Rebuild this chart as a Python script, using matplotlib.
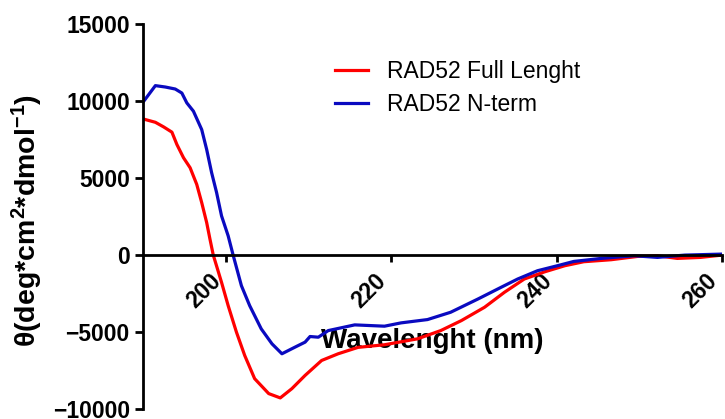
import matplotlib
matplotlib.use("Agg")
import matplotlib.pyplot as plt

plt.rcParams["font.family"] = ["Liberation Sans", "DejaVu Sans"]
plt.rcParams["mathtext.fontset"] = "custom"
plt.rcParams["mathtext.rm"] = "Liberation Sans:bold"
plt.rcParams["mathtext.it"] = "Liberation Sans:bold"
plt.rcParams["mathtext.bf"] = "Liberation Sans:bold"

# CD spectra (wavelength in nm, ellipticity)
full_nm = [190.0, 191.5, 192.5, 193.5, 194.1, 194.9, 195.7, 196.5, 197.1, 197.7,
           198.1, 198.5, 199.5, 200.3, 201.3, 202.3, 203.5, 205.2, 206.6, 208.0,
           209.6, 211.6, 213.6, 216.0, 219.2, 223.2, 226.0, 228.5, 231.3, 233.7,
           236.1, 238.6, 241.0, 243.3, 246.6, 249.8, 252.2, 254.6, 257.4, 260.0]
full_theta = [8840, 8620, 8320, 7980, 7180, 6320, 5670, 4590, 3410, 2115,
              1035, 0, -1770, -3280, -5000, -6515, -8020, -8990, -9270, -8670,
              -7810, -6840, -6405, -5990, -5820, -5435, -4900, -4250, -3385, -2415,
              -1553, -1080, -690, -430, -300, -86, -43, -215, -150, 0]

nterm_nm = [190.0, 191.5, 192.7, 193.9, 194.7, 195.3, 196.1, 197.1, 197.7, 198.3,
            198.9, 199.5, 200.3, 200.9, 201.9, 202.9, 204.3, 205.6, 206.8, 208.4,
            209.6, 210.2, 211.2, 212.4, 215.6, 219.2, 221.2, 224.4, 227.2, 230.5,
            233.3, 235.3, 237.7, 240.1, 242.1, 245.4, 249.4, 252.2, 255.5, 260.0]
nterm_theta = [9920, 11000, 10910, 10780, 10520, 9880, 9340, 8150, 6860, 5350,
               4060, 2545, 1250, 0, -1985, -3280, -4790, -5760, -6405, -5970,
               -5650, -5285, -5330, -4900, -4530, -4615, -4400, -4185, -3710, -2850,
               -2090, -1553, -1015, -690, -410, -215, -43, -150, 0, 65]

labels = ["RAD52 Full Lenght", "RAD52 N-term"]
colors = ["#ff0000", "#0a0ac0"]
x_ticks = [200, 220, 240, 260]
y_ticks = [-10000, -5000, 0, 5000, 10000, 15000]


def main():
    fig = plt.figure(figsize=(7.25, 4.19), dpi=100)
    ax = fig.add_axes([0.1972, 0.0235, 0.7986, 0.9192])

    ax.plot(full_nm, full_theta, color=colors[0], lw=2.3, label=labels[0])
    ax.plot(nterm_nm, nterm_theta, color=colors[1], lw=2.3, label=labels[1])

    ax.set_xlim(190, 260)
    ax.set_ylim(-10000, 15000)
    ax.set_xticks(x_ticks)
    ax.set_yticks(y_ticks)

    for spine in ("top", "right"):
        ax.spines[spine].set_visible(False)
    ax.spines["bottom"].set_position(("data", 0))
    ax.spines["left"].set_linewidth(2)
    ax.spines["bottom"].set_linewidth(2)

    ax.tick_params(axis="y", direction="out", length=6, width=2, pad=3.5,
                   labelsize=16.5)
    ax.tick_params(axis="x", direction="out", length=5, width=2, pad=5,
                   labelsize=16.5, labelrotation=45)
    for lab in ax.get_xticklabels():
        lab.set_ha("right")
        lab.set_fontweight("bold")
    for lab in ax.get_yticklabels():
        lab.set_fontweight("bold")

    ax.set_xlabel("Wavelenght (nm)", fontsize=20, fontweight="bold")
    ax.xaxis.set_label_coords(0.499, 0.212)
    ax.set_ylabel(r"θ(deg*cm$^{2}$*dmol$^{-1}$)", fontsize=20.5,
                  fontweight="bold")
    ax.yaxis.set_label_coords(-0.169, 0.49)

    ax.legend(loc="upper left", bbox_to_anchor=(0.462, 0.857),
              bbox_transform=fig.transFigure, frameon=False, fontsize=16.5,
              handlelength=1.45, handletextpad=0.8, labelspacing=0.45,
              borderpad=0, borderaxespad=0)

    fig.savefig("out.png", dpi=100)
    plt.close(fig)


if __name__ == "__main__":
    main()
